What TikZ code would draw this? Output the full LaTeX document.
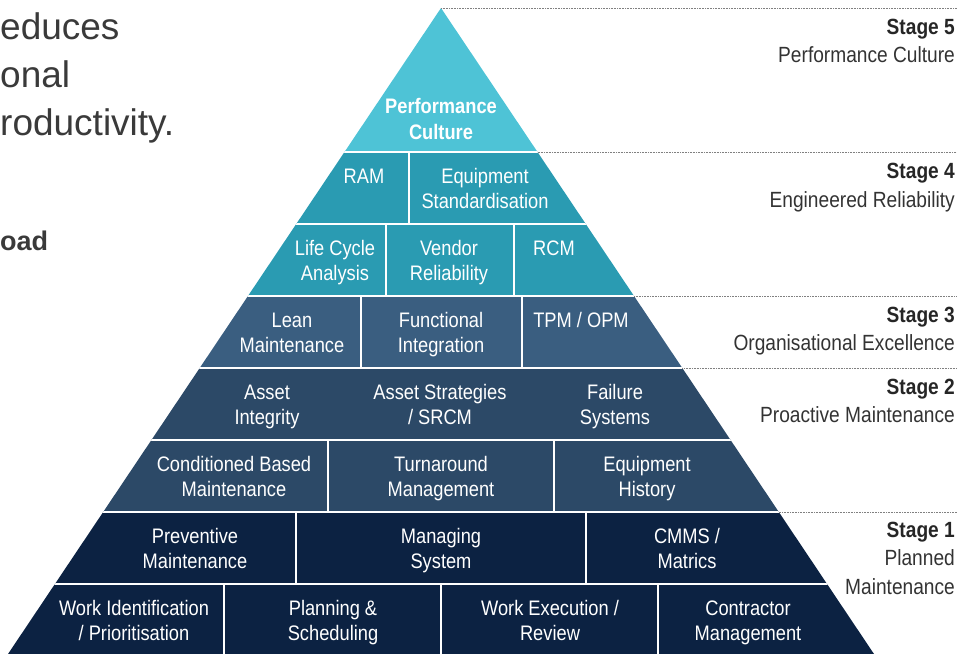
\documentclass[tikz,border=0pt]{standalone}
\usepackage{fontspec}
\usetikzlibrary{calc}
\setmainfont{Liberation Sans}
\newfontfamily\narrowfont{Liberation Sans}[FakeStretch=0.87]

\definecolor{stagefive}{RGB}{78,195,214}
\definecolor{stagefour}{RGB}{42,155,178}
\definecolor{stagethree}{RGB}{58,94,128}
\definecolor{stagetwo}{RGB}{44,73,103}
\definecolor{stageone}{RGB}{12,34,66}
\definecolor{bodygray}{RGB}{58,58,58}

\tikzset{
    cell/.style={anchor=base, align=center, inner sep=0pt, text=white,
        font=\narrowfont\fontsize{21}{25.6}\selectfont},
    stagehead/.style={anchor=base east, inner sep=0pt, text=black!85,
        font=\narrowfont\bfseries\fontsize{22}{29}\selectfont},
    stagename/.style={anchor=base east, align=right, inner sep=0pt, text=black!80,
        font=\narrowfont\fontsize{22}{29}\selectfont},
    intro/.style={anchor=base west, inner sep=0pt, text=bodygray,
        font=\fontsize{37}{48}\selectfont},
    divider/.style={white, line width=2pt},
    guide/.style={gray, line width=0.8pt, dash pattern=on 0.8pt off 0.8pt},
}

\begin{document}
\begin{tikzpicture}[x=1pt, y=-1pt]
    \useasboundingbox (0, 0) rectangle (957, 654);
    \coordinate (apex) at (441, 8);
    \coordinate (bl) at (8, 654);
    \coordinate (br) at (874, 654);

    % text of the page, cut at the left edge
    \node[intro] (introa) at (0, 39) {educes};
    \node[intro] (introb) at (0, 87) {onal};
    \node[intro] (introc) at (0, 135) {roductivity.};
    \node[intro, font=\bfseries\fontsize{27}{32}\selectfont] (introd) at (0, 250) {oad};

    % pyramid
    \begin{scope}
        \clip (apex) -- (bl) -- (br) -- cycle;
        \fill[stagefive] (0, 0) rectangle (957, 152);
        \fill[stagefour] (0, 152) rectangle (957, 296);
        \fill[stagethree] (0, 296) rectangle (957, 368);
        \fill[stagetwo] (0, 368) rectangle (957, 512);
        \fill[stageone] (0, 512) rectangle (957, 654);
        \draw[divider] (0, 152) -- (957, 152);
        \draw[divider] (0, 224) -- (957, 224);
        \draw[divider] (0, 296) -- (957, 296);
        \draw[divider] (0, 368) -- (957, 368);
        \draw[divider] (0, 440) -- (957, 440);
        \draw[divider] (0, 512) -- (957, 512);
        \draw[divider] (0, 584) -- (957, 584);
        \draw[divider] (409, 152) -- (409, 224);
        \draw[divider] (386, 224) -- (386, 296);
        \draw[divider] (514, 224) -- (514, 296);
        \draw[divider] (361, 296) -- (361, 368);
        \draw[divider] (522, 296) -- (522, 368);
        \draw[divider] (328, 440) -- (328, 512);
        \draw[divider] (554, 440) -- (554, 512);
        \draw[divider] (296, 512) -- (296, 584);
        \draw[divider] (586, 512) -- (586, 584);
        \draw[divider] (224, 584) -- (224, 654);
        \draw[divider] (441, 584) -- (441, 654);
        \draw[divider] (658, 584) -- (658, 654);
    \end{scope}

    % cells (base = last line)
    \node[cell, font=\narrowfont\bfseries\fontsize{21}{26}\selectfont] (perf) at (441, 139) {Performance\\Culture};
    \node[cell] (ram) at (364, 183) {RAM};
    \node[cell] (eqstd) at (485, 208.6) {Equipment\\Standardisation};
    \node[cell] (lca) at (335, 280.6) {Life Cycle\\Analysis};
    \node[cell] (vendor) at (449, 280.6) {Vendor\\Reliability};
    \node[cell] (rcm) at (554, 255) {RCM};
    \node[cell] (lean) at (292, 352.6) {Lean\\Maintenance};
    \node[cell] (func) at (441, 352.6) {Functional\\Integration};
    \node[cell] (tpm) at (581, 327) {TPM / OPM};
    \node[cell] (integ) at (267, 424.6) {Asset\\Integrity};
    \node[cell] (strat) at (440, 424.6) {Asset Strategies\\/ SRCM};
    \node[cell] (fail) at (615, 424.6) {Failure\\Systems};
    \node[cell] (cbm) at (234, 496.6) {Conditioned Based\\Maintenance};
    \node[cell] (turn) at (441, 496.6) {Turnaround\\Management};
    \node[cell] (hist) at (647, 496.6) {Equipment\\History};
    \node[cell] (prev) at (195, 568.6) {Preventive\\Maintenance};
    \node[cell] (msys) at (441, 568.6) {Managing\\System};
    \node[cell] (cmms) at (687, 568.6) {CMMS /\\Matrics};
    \node[cell] (workid) at (134, 640.6) {Work Identification\\/ Prioritisation};
    \node[cell] (plan) at (333, 640.6) {Planning \&\\Scheduling};
    \node[cell] (exec) at (550, 640.6) {Work Execution /\\Review};
    \node[cell] (contr) at (748, 640.6) {Contractor\\Management};

    % stage guides
    \coordinate (gfive) at (apex);
    \coordinate (gfour) at ($(apex)!0.2229!(br)$);
    \coordinate (gthree) at ($(apex)!0.4458!(br)$);
    \coordinate (gtwo) at ($(apex)!0.5573!(br)$);
    \coordinate (gone) at ($(apex)!0.7802!(br)$);
    \draw[guide] (gfive) -- (gfive -| 957, 0);
    \draw[guide] (gfour) -- (gfour -| 957, 0);
    \draw[guide] (gthree) -- (gthree -| 957, 0);
    \draw[guide] (gtwo) -- (gtwo -| 957, 0);
    \draw[guide] (gone) -- (gone -| 957, 0);

    \node[stagehead] (sfive) at (955, 34) {Stage 5};
    \node[stagename] (nfive) at (955, 62) {Performance Culture};
    \node[stagehead] (sfour) at (955, 178) {Stage 4};
    \node[stagename] (nfour) at (955, 207) {Engineered Reliability};
    \node[stagehead] (sthree) at (955, 322) {Stage 3};
    \node[stagename] (nthree) at (955, 350) {Organisational Excellence};
    \node[stagehead] (stwo) at (955, 394) {Stage 2};
    \node[stagename] (ntwo) at (955, 422) {Proactive Maintenance};
    \node[stagehead] (sone) at (955, 537) {Stage 1};
    \node[stagename] (none) at (955, 594) {Planned\\Maintenance};
\end{tikzpicture}
\end{document}
